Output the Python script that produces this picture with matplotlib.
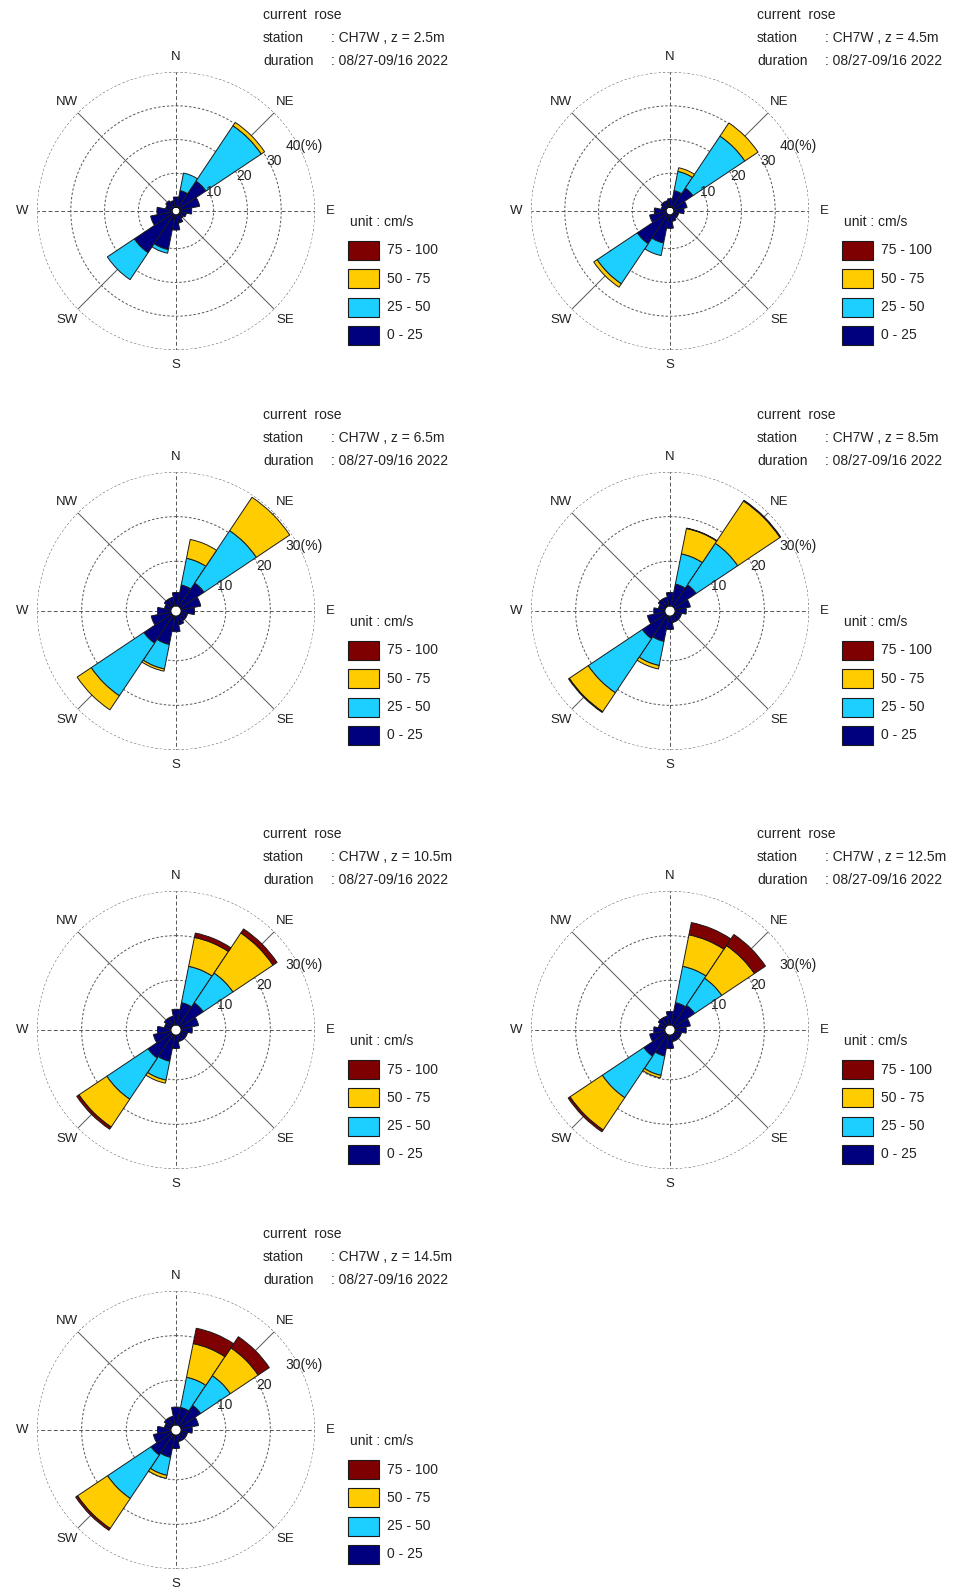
import matplotlib
matplotlib.use("Agg")
import matplotlib.pyplot as plt
import numpy as np
from matplotlib.patches import Rectangle

plt.rcParams['font.family'] = ['Liberation Sans', 'DejaVu Sans']

# direction bins, clockwise from N
directions = ['N', 'NNE', 'NE', 'ENE', 'E', 'ESE', 'SE', 'SSE',
              'S', 'SSW', 'SW', 'WSW', 'W', 'WNW', 'NW', 'NNW']
compass = ['N', 'NE', 'E', 'SE', 'S', 'SW', 'W', 'NW']
speed_labels = ['0 - 25', '25 - 50', '50 - 75', '75 - 100']
speed_colors = ['#00007f', '#1ccfff', '#ffcc00', '#7f0000']

depths = ['2.5m', '4.5m', '6.5m', '8.5m', '10.5m', '12.5m', '14.5m']
r_max = [40, 40, 30, 30, 30, 30, 30]

# frequency (%) per speed class (0-25, 25-50, 50-75, 75-100 cm/s), 16 directions
rose_2p5 = [
    [3, 5, 9.5, 6, 3.5, 2, 1.5, 2.5, 4.5, 10.5, 13.7, 6.5, 4.5, 2, 2.5, 2],
    [0, 5.3, 19.7, 0, 0, 0, 0, 0, 0, 1.1, 9.6, 0, 0, 0, 0, 0],
    [0, 0, 1.2, 0, 0, 0, 0, 0, 0, 0, 0, 0, 0, 0, 0, 0],
    [0, 0, 0, 0, 0, 0, 0, 0, 0, 0, 0, 0, 0, 0, 0, 0],
]
rose_4p5 = [
    [2.5, 5, 7, 4, 3, 1.5, 1.5, 2, 4, 8.5, 10.5, 5, 3.5, 1.5, 2, 2],
    [0, 5.8, 18.5, 0, 0, 0, 0, 0, 0, 3.8, 14.3, 0, 0, 0, 0, 0],
    [0, 1.1, 4.7, 0, 0, 0, 0, 0, 0, 0, 1.2, 0, 0, 0, 0, 0],
    [0, 0, 0, 0, 0, 0, 0, 0, 0, 0, 0, 0, 0, 0, 0, 0],
]
rose_6p5 = [
    [3, 4.8, 6.4, 4.5, 3, 1.5, 1.5, 2, 3.5, 6.5, 7.5, 4.5, 3, 1.5, 2, 2],
    [0, 6.1, 14.1, 0, 0, 0, 0, 0, 0, 5.6, 14.2, 0, 0, 0, 0, 0],
    [0, 4.3, 9.0, 0, 0, 0, 0, 0, 0, 0.5, 3.8, 0, 0, 0, 0, 0],
    [0, 0, 0, 0, 0, 0, 0, 0, 0, 0, 0, 0, 0, 0, 0, 0],
]
rose_8p5 = [
    [3, 5, 5.9, 3.5, 2.5, 1.5, 1.5, 1.5, 3, 5.8, 6.3, 4, 2.5, 1.5, 2, 2],
    [0, 6.9, 11.2, 0, 0, 0, 0, 0, 0, 5.5, 14.6, 0, 0, 0, 0, 0],
    [0, 5.8, 11.4, 0, 0, 0, 0, 0, 0, 0.8, 5.1, 0, 0, 0, 0, 0],
    [0, 0.1, 0.2, 0, 0, 0, 0, 0, 0, 0, 0.2, 0, 0, 0, 0, 0],
]
rose_10p5 = [
    [3.5, 5.1, 6.2, 4, 2.5, 1.5, 1.5, 1.5, 3, 6, 6.4, 4, 3, 1.5, 2, 2],
    [0, 8.3, 8.0, 0, 0, 0, 0, 0, 0, 4.3, 11.1, 0, 0, 0, 0, 0],
    [0, 6.6, 10.8, 0, 0, 0, 0, 0, 0, 0.7, 7.5, 0, 0, 0, 0, 0],
    [0, 1.0, 1.1, 0, 0, 0, 0, 0, 0, 0, 0.6, 0, 0, 0, 0, 0],
]
rose_12p5 = [
    [3, 5.1, 5.5, 3.5, 2.5, 1.5, 1.5, 1.5, 3, 4.8, 5.9, 3.5, 2.5, 1.5, 2, 2],
    [0, 8.3, 7.3, 0, 0, 0, 0, 0, 0, 4.4, 11.2, 0, 0, 0, 0, 0],
    [0, 7.2, 8.8, 0, 0, 0, 0, 0, 0, 0.6, 8.7, 0, 0, 0, 0, 0],
    [0, 2.8, 3.0, 0, 0, 0, 0, 0, 0, 0, 0.5, 0, 0, 0, 0, 0],
]
rose_14p5 = [
    [4, 4, 5.5, 4, 2.5, 1.5, 1.5, 1.5, 3, 5.1, 5.6, 4, 3, 1.5, 2, 2],
    [0, 6.9, 8.0, 0, 0, 0, 0, 0, 0, 4.1, 11.7, 0, 0, 0, 0, 0],
    [0, 7.7, 7.5, 0, 0, 0, 0, 0, 0, 0.7, 8.1, 0, 0, 0, 0, 0],
    [0, 3.5, 3.0, 0, 0, 0, 0, 0, 0, 0, 0.5, 0, 0, 0, 0, 0],
]
roses = [rose_2p5, rose_4p5, rose_6p5, rose_8p5, rose_10p5, rose_12p5, rose_14p5]

station = 'CH7W'
duration = '08/27-09/16 2022'

# layout (pixels)
W, H = 968, 1593
R = 139
centers = [(176, 211), (670, 211), (176, 611), (670, 611),
           (176, 1030), (670, 1030), (176, 1430)]
r_org = -1.15


def fx(x):
    return x / W


def fy(y):
    return 1 - y / H


fig = plt.figure(figsize=(W / 100, H / 100), dpi=100)

theta = np.deg2rad(np.arange(16) * 22.5)
width = np.deg2rad(22.5)
tt = np.linspace(0, 2 * np.pi, 361)
txt_col = '#222222'

for i, (cx, cy) in enumerate(centers):
    rmax = r_max[i]
    ax = fig.add_axes([fx(cx - R), fy(cy + R), 2 * R / W, 2 * R / H], projection='polar')
    ax.set_theta_zero_location('N')
    ax.set_theta_direction(-1)
    ax.set_rorigin(r_org)
    ax.set_ylim(0, rmax)
    ax.grid(False)
    ax.set_xticks([])
    ax.set_yticks([])
    ax.spines['polar'].set_visible(False)
    ax.patch.set_alpha(0)

    # rings
    for rr in range(10, rmax + 1, 10):
        ax.plot(tt, np.full_like(tt, rr), color='#555555', lw=0.7,
                ls=(0, (2.5, 2)), zorder=1)
    # spokes
    for k in range(8):
        ang = np.deg2rad(k * 45)
        ls = (0, (4, 2.5)) if k % 2 == 0 else '-'
        ax.plot([ang, ang], [0, rmax], color='#555555', lw=0.7, ls=ls, zorder=1)

    # stacked bars
    data = np.array(roses[i], dtype=float)
    bottom = np.zeros(16)
    for c in range(4):
        m = data[c] > 0
        if m.any():
            ax.bar(theta[m], data[c][m], width=width, bottom=bottom[m],
                   color=speed_colors[c], edgecolor='#1a1a1a', lw=0.7, zorder=3)
        bottom += data[c]

    # ring labels
    for rr in range(10, rmax + 1, 10):
        lab = f'{rr}(%)' if rr == rmax else f'{rr}'
        ax.text(np.deg2rad(63), rr + 0.035 * rmax, lab, ha='center', va='center',
                fontsize=10, color=txt_col, zorder=5)

    # compass labels
    r_lab = r_org + 154 / R * (rmax - r_org)
    for k, name in enumerate(compass):
        ax.text(np.deg2rad(k * 45), r_lab, name, ha='center', va='center',
                fontsize=9.5, color=txt_col, clip_on=False)

    # header
    fig.text(fx(cx + 87), fy(cy - 196), 'current  rose', fontsize=10,
             color=txt_col, va='center')
    fig.text(fx(cx + 87), fy(cy - 173), 'station', fontsize=10,
             color=txt_col, va='center')
    fig.text(fx(cx + 155), fy(cy - 173), f': {station} , z = {depths[i]}',
             fontsize=10, color=txt_col, va='center')
    fig.text(fx(cx + 87), fy(cy - 150), 'duration', fontsize=10,
             color=txt_col, va='center')
    fig.text(fx(cx + 155), fy(cy - 150), f': {duration}', fontsize=10,
             color=txt_col, va='center')

    # legend
    fig.text(fx(cx + 174), fy(cy + 11), 'unit : cm/s', fontsize=10,
             color=txt_col, va='center')
    for j in range(4):
        c = 3 - j
        top = cy + 30 + j * 28.3
        fig.add_artist(Rectangle((fx(cx + 172), fy(top + 19)), 31 / W, 19 / H,
                                 transform=fig.transFigure, facecolor=speed_colors[c],
                                 edgecolor='#1a1a1a', lw=0.8))
        fig.text(fx(cx + 211), fy(top + 9.5), speed_labels[c], fontsize=10,
                 color=txt_col, va='center')

fig.savefig('out.png', dpi=100)
